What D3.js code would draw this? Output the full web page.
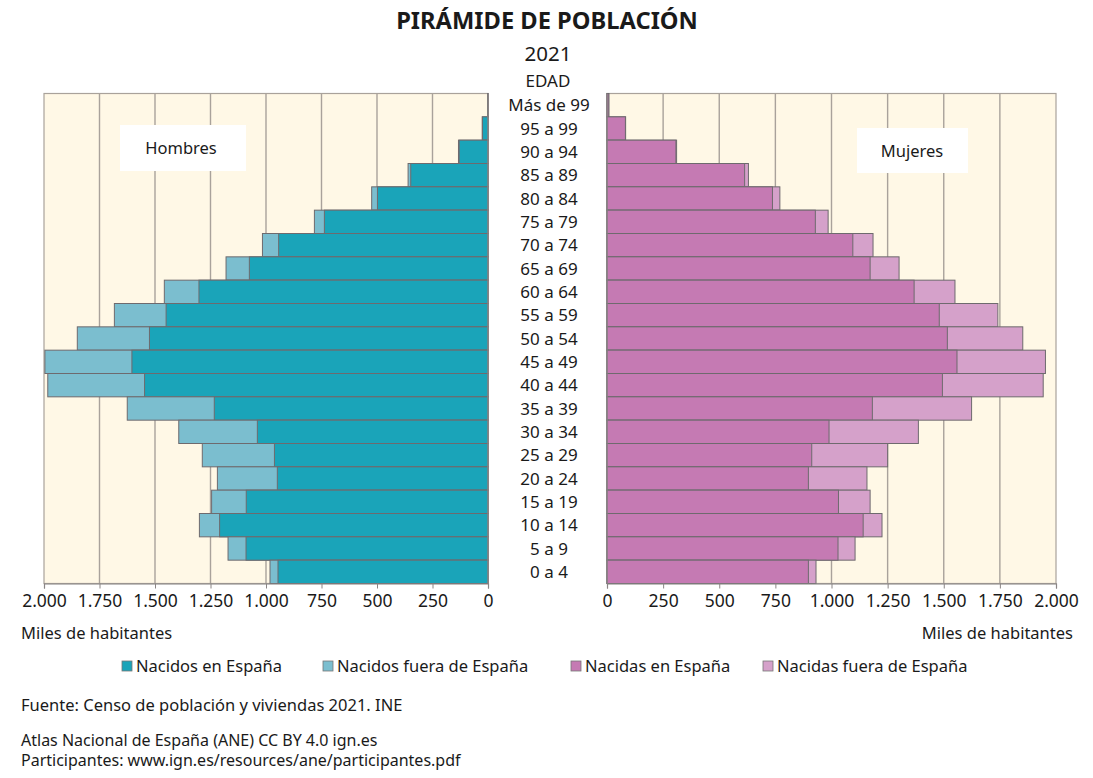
<!DOCTYPE html>
<html>
<head>
<meta charset="utf-8">
<script src="https://cdn.jsdelivr.net/npm/d3@7"></script>
<style>
  body { margin: 0; background: #fff; }
  svg text { font-family: "Noto Sans", "DejaVu Sans", sans-serif; fill: #1a1a1a; }
</style>
</head>
<body>
<svg id="chart" width="1093" height="778"></svg>
<script>
// age groups, top to bottom
var ages = ["Más de 99", "95 a 99", "90 a 94", "85 a 89", "80 a 84", "75 a 79", "70 a 74",
            "65 a 69", "60 a 64", "55 a 59", "50 a 54", "45 a 49", "40 a 44", "35 a 39",
            "30 a 34", "25 a 29", "20 a 24", "15 a 19", "10 a 14", "5 a 9", "0 a 4"];

// thousands of people
var menBorn    = [2, 25, 130, 348, 498, 737, 943, 1075, 1302, 1450, 1525, 1604, 1547, 1233, 1039, 962, 949, 1089, 1209, 1090, 946];
var menForeign = [0, 1, 3, 12, 26, 45, 73, 105, 156, 233, 325, 392, 436, 392, 354, 325, 270, 156, 91, 81, 36];
var womenBorn    = [8, 82, 307, 613, 737, 928, 1095, 1172, 1368, 1480, 1516, 1559, 1494, 1182, 989, 912, 897, 1031, 1141, 1029, 897];
var womenForeign = [0, 1, 3, 17, 33, 57, 90, 129, 182, 261, 336, 394, 449, 442, 398, 338, 261, 141, 84, 76, 34];

var ticks = [0, 250, 500, 750, 1000, 1250, 1500, 1750, 2000];
var legendLabels = ["Nacidos en España", "Nacidos fuera de España", "Nacidas en España", "Nacidas fuera de España"];
var colors = ["#1aa4b9", "#7bbecf", "#c57ab3", "#d5a1ca"];

(function () {
    'use strict';
    var svg = d3.select("#chart"),
        plotTop = 93.5,
        plotBottom = 583.5,
        fmt = function (d) { return d3.format(",")(d).replace(/,/g, "."); },
        y = d3.scaleBand().domain(ages).range([plotTop, plotBottom]).padding(0),
        xL = d3.scaleLinear().domain([0, 2000]).range([488, 44]),
        xR = d3.scaleLinear().domain([0, 2000]).range([607, 1056]);

    // one half of the pyramid
    function panel(x, born, foreign, c1, c2, left) {
        var g = svg.append("g");
        g.append("rect")
            .attr("x", Math.min(x(0), x(2000))).attr("y", plotTop)
            .attr("width", Math.abs(x(2000) - x(0))).attr("height", plotBottom - plotTop)
            .attr("fill", "#fff8e6").attr("stroke", "#a9a29b").attr("stroke-width", 1.2);
        g.selectAll("line.grid").data(ticks.slice(1, -1)).enter().append("line")
            .attr("x1", function (d) { return x(d); }).attr("x2", function (d) { return x(d); })
            .attr("y1", plotTop).attr("y2", plotBottom)
            .attr("stroke", "#a9a29b").attr("stroke-width", 1.4);

        var rows = g.selectAll("g.row").data(ages).enter().append("g");
        rows.append("rect")
            .attr("x", function (d, i) { return left ? x(born[i] + foreign[i]) : x(0); })
            .attr("y", function (d) { return y(d); })
            .attr("width", function (d, i) { return Math.abs(x(born[i] + foreign[i]) - x(0)); })
            .attr("height", y.bandwidth())
            .attr("fill", c2).attr("stroke", "#6e6a6e").attr("stroke-width", 1);
        rows.append("rect")
            .attr("x", function (d, i) { return left ? x(born[i]) : x(0); })
            .attr("y", function (d) { return y(d); })
            .attr("width", function (d, i) { return Math.abs(x(born[i]) - x(0)); })
            .attr("height", y.bandwidth())
            .attr("fill", c1).attr("stroke", "#6e6a6e").attr("stroke-width", 1);

        // zero line
        g.append("line").attr("x1", x(0)).attr("x2", x(0)).attr("y1", plotTop).attr("y2", plotBottom)
            .attr("stroke", "#8a8585").attr("stroke-width", 1.2);

        var axis = g.append("g").attr("transform", "translate(0," + plotBottom + ")")
            .call(d3.axisBottom(x).tickValues(ticks).tickSize(5).tickPadding(6).tickFormat(fmt));
        axis.select(".domain").attr("stroke", "#8a8585").attr("stroke-width", 1.2);
        axis.selectAll(".tick line").attr("stroke", "#8a8585");
        axis.selectAll("text").attr("font-size", 17.5).attr("fill", "#1a1a1a")
            .style("font-family", "'Noto Sans', sans-serif");
    }

    panel(xL, menBorn, menForeign, colors[0], colors[1], true);
    panel(xR, womenBorn, womenForeign, colors[2], colors[3], false);

    // sex labels
    svg.append("rect").attr("x", 120).attr("y", 125).attr("width", 126).attr("height", 46).attr("fill", "#fff");
    svg.append("text").attr("x", 181).attr("y", 154).attr("text-anchor", "middle").attr("font-size", 16.5).text("Hombres");
    svg.append("rect").attr("x", 857).attr("y", 128).attr("width", 111).attr("height", 45).attr("fill", "#fff");
    svg.append("text").attr("x", 912).attr("y", 157).attr("text-anchor", "middle").attr("font-size", 16.5).text("Mujeres");

    // age labels
    svg.selectAll("text.age").data(ages).enter().append("text")
        .attr("x", 549).attr("y", function (d) { return y(d) + y.bandwidth() / 2 + 6; })
        .attr("text-anchor", "middle").attr("font-size", 17).text(function (d) { return d; });

    // titles
    svg.append("text").attr("x", 547).attr("y", 29).attr("text-anchor", "middle")
        .attr("font-size", 23.7).attr("font-weight", "bold").text("PIRÁMIDE DE POBLACIÓN");
    svg.append("text").attr("x", 548).attr("y", 61).attr("text-anchor", "middle").attr("font-size", 20.5).text("2021");
    svg.append("text").attr("x", 548).attr("y", 87).attr("text-anchor", "middle").attr("font-size", 17).text("EDAD");

    svg.append("text").attr("x", 21).attr("y", 639).attr("font-size", 16.5).text("Miles de habitantes");
    svg.append("text").attr("x", 1073).attr("y", 639).attr("text-anchor", "end").attr("font-size", 16.5).text("Miles de habitantes");

    // legend
    var legX = [122, 323, 571, 763];
    var leg = svg.selectAll("g.leg").data(legendLabels).enter().append("g")
        .attr("transform", function (d, i) { return "translate(" + legX[i] + ",661)"; });
    leg.append("rect").attr("width", 10).attr("height", 10)
        .attr("fill", function (d, i) { return colors[i]; }).attr("stroke", "#777").attr("stroke-width", 0.8);
    leg.append("text").attr("x", 14).attr("y", 10.5).attr("font-size", 16.5).text(function (d) { return d; });

    // footer
    svg.append("text").attr("x", 21).attr("y", 711).attr("font-size", 16.5).text("Fuente: Censo de población y viviendas 2021. INE");
    svg.append("text").attr("x", 21).attr("y", 746).attr("font-size", 16).text("Atlas Nacional de España (ANE) CC BY 4.0 ign.es");
    svg.append("text").attr("x", 21).attr("y", 766).attr("font-size", 16).text("Participantes: www.ign.es/resources/ane/participantes.pdf");
}());
</script>
</body>
</html>
